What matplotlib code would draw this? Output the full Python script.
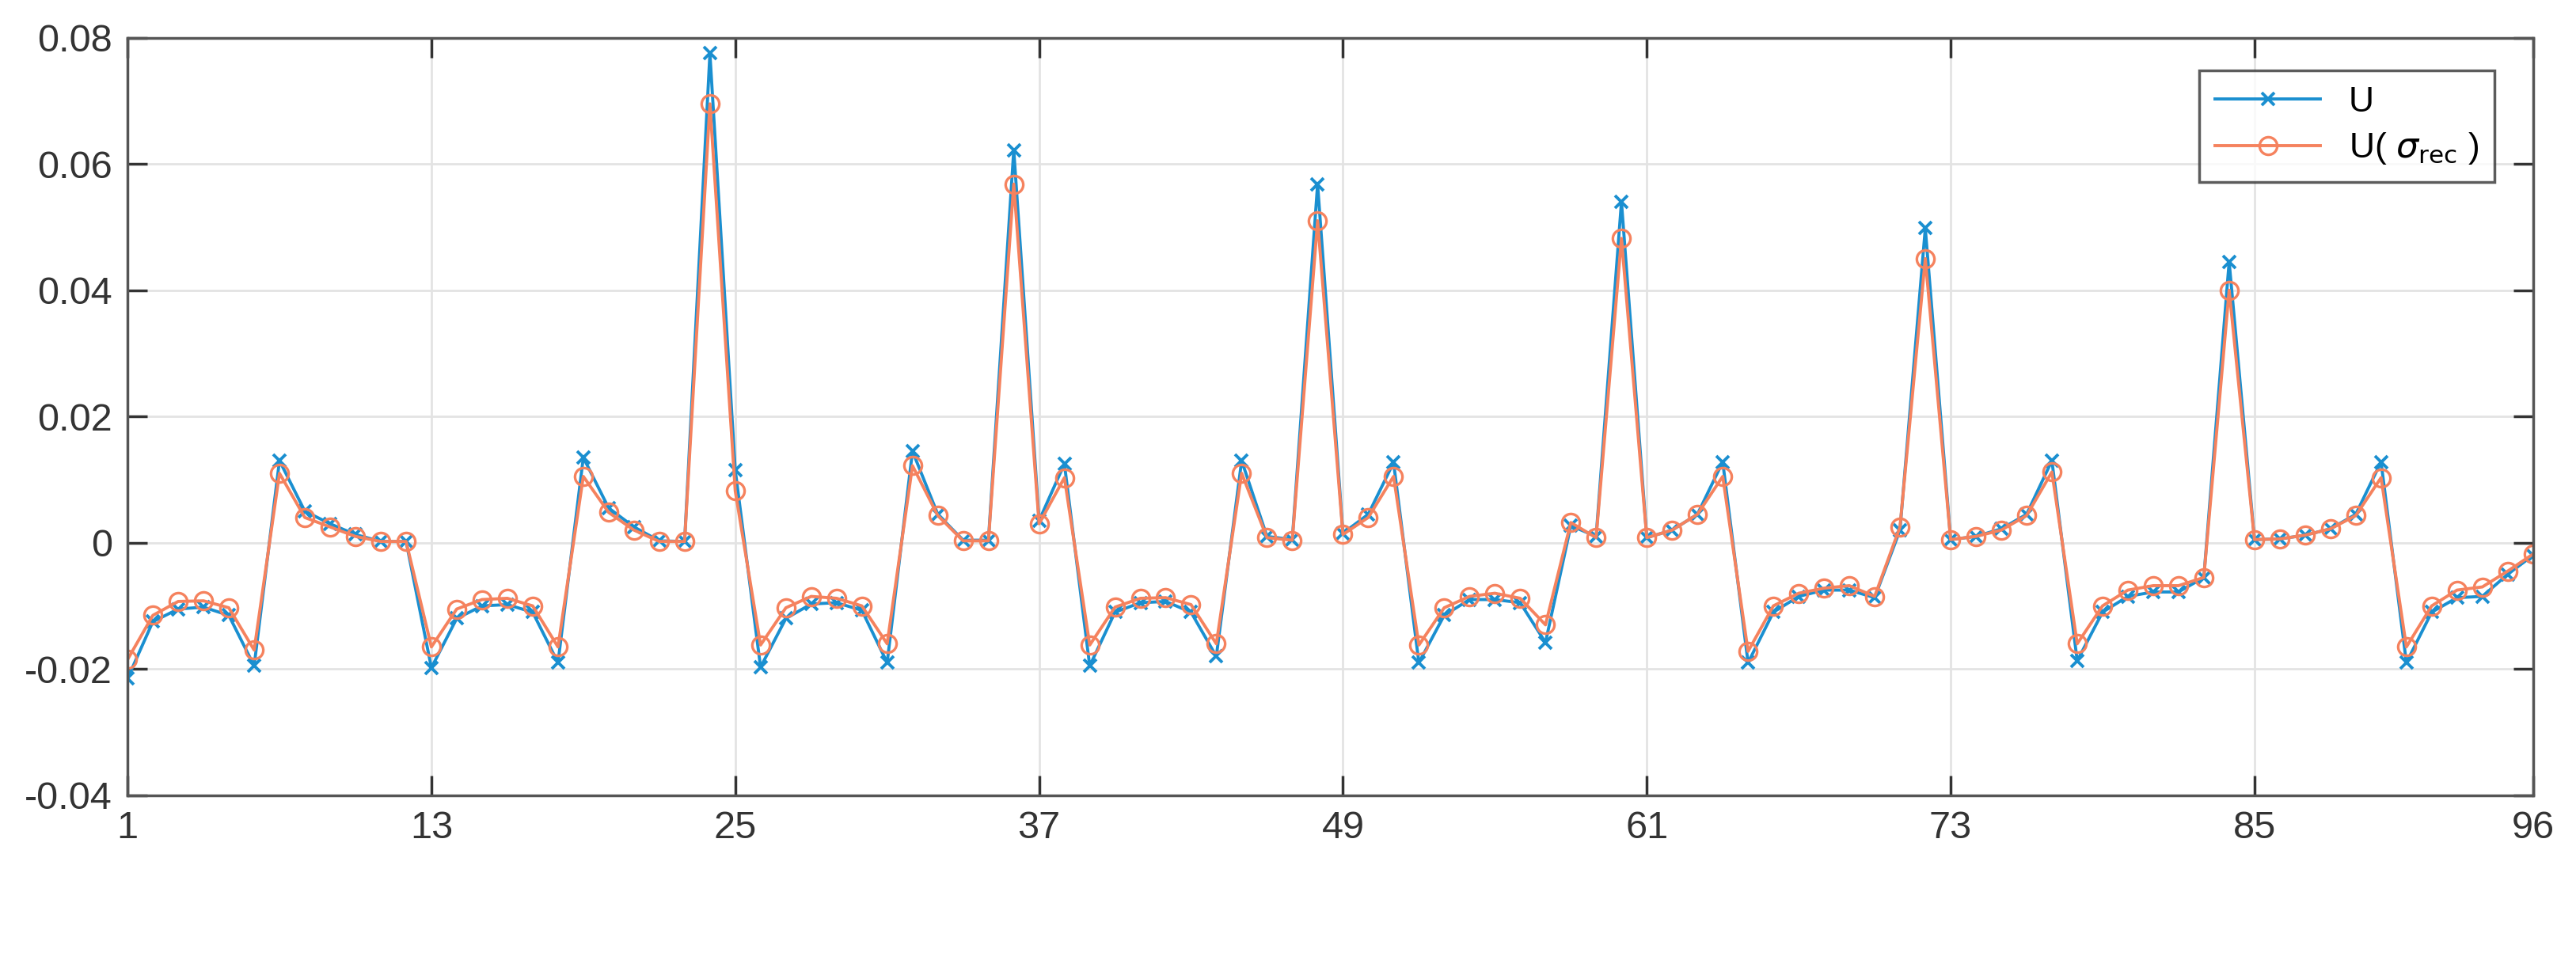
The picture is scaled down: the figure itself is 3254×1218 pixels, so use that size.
import matplotlib
matplotlib.use("Agg")
import matplotlib.pyplot as plt
import numpy as np

plt.rcParams['font.family'] = ['Liberation Sans', 'DejaVu Sans']
plt.rcParams['mathtext.fontset'] = 'dejavusans'

x = list(range(1, 97))
U = [-0.0215,-0.0125,-0.0105,-0.0102,-0.0115,-0.0195,0.013,0.005,0.003,0.0013,0.0002,0.0002,
     -0.0198,-0.012,-0.010,-0.0098,-0.011,-0.019,0.0135,0.0055,0.0025,0.0003,0.0002,0.0775,
     0.0115,-0.0197,-0.012,-0.0097,-0.0095,-0.0107,-0.019,0.0145,0.0045,0.0004,0.0004,0.0622,
     0.0035,0.0125,-0.0195,-0.011,-0.0095,-0.0093,-0.011,-0.018,0.013,0.001,0.0005,0.0568,
     0.0015,0.0045,0.0127,-0.019,-0.0115,-0.009,-0.009,-0.0095,-0.0158,0.0027,0.001,0.054,
     0.0008,0.002,0.0045,0.0128,-0.019,-0.011,-0.0085,-0.0075,-0.0075,-0.0087,0.002,0.0498,
     0.0005,0.001,0.0022,0.0045,0.013,-0.0187,-0.011,-0.0085,-0.0078,-0.0078,-0.0055,0.0445,
     0.0005,0.0006,0.0012,0.0022,0.0045,0.0128,-0.019,-0.011,-0.0087,-0.0085,-0.005,-0.002]
U_rec = [-0.0185,-0.0115,-0.0093,-0.0092,-0.0103,-0.017,0.011,0.004,0.0025,0.001,0.0002,0.0002,
         -0.0165,-0.0105,-0.009,-0.0088,-0.010,-0.0165,0.0105,0.0048,0.002,0.0002,0.0002,0.0695,
         0.0082,-0.0162,-0.0103,-0.0085,-0.0088,-0.010,-0.016,0.0122,0.0043,0.0003,0.0003,0.0568,
         0.003,0.0103,-0.0162,-0.0102,-0.0088,-0.0087,-0.0098,-0.016,0.011,0.0008,0.0004,0.051,
         0.0013,0.004,0.0105,-0.0162,-0.0103,-0.0085,-0.008,-0.0088,-0.013,0.0032,0.0008,0.0482,
         0.0008,0.002,0.0045,0.0105,-0.0172,-0.0100,-0.008,-0.0072,-0.0068,-0.0085,0.0025,0.045,
         0.0005,0.001,0.002,0.0043,0.0112,-0.016,-0.010,-0.0075,-0.0068,-0.0068,-0.0055,0.040,
         0.0005,0.0006,0.0012,0.0022,0.0043,0.0103,-0.0165,-0.010,-0.0075,-0.007,-0.0045,-0.0018]
xticks = [1, 13, 25, 37, 49, 61, 73, 85, 96]
yticks = [-0.04, -0.02, 0, 0.02, 0.04, 0.06, 0.08]
ylabels = ["-0.04", "-0.02", "0", "0.02", "0.04", "0.06", "0.08"]

fig = plt.figure(figsize=(32.55, 12.18), dpi=100)
ax = fig.add_axes([0.0495, 0.175, 0.9335, 0.786])
ax.plot(x, U, color="#1a8fd0", marker="x", markersize=12, markeredgewidth=2.8, linewidth=2.8, label="U")
ax.plot(x, U_rec, color="#f5825e", marker="o", markersize=16, markerfacecolor="none", markeredgewidth=2.4,
        linewidth=2.8, label=r"U( $\sigma_{\rm rec}$ )")
ax.set_xlim(1, 96)
ax.set_ylim(-0.04, 0.08)
ax.set_xticks(xticks)
ax.set_yticks(yticks)
ax.set_yticklabels(ylabels)
ax.grid(True, color="#e3e3e3", linewidth=2)
ax.tick_params(direction="in", length=18, width=2.5, labelsize=35, colors="#333333", top=True, right=True, pad=14)
for s in ax.spines.values():
    s.set_color("#555555"); s.set_linewidth(2.5)
leg = ax.legend(loc="upper right", fontsize=32, bbox_to_anchor=(0.984, 0.957), borderaxespad=0,
                fancybox=False, edgecolor="#333333", handlelength=3.0, borderpad=0.45, labelspacing=0.35)
leg.get_frame().set_linewidth(2.5)
fig.savefig("out.png", dpi=100)
